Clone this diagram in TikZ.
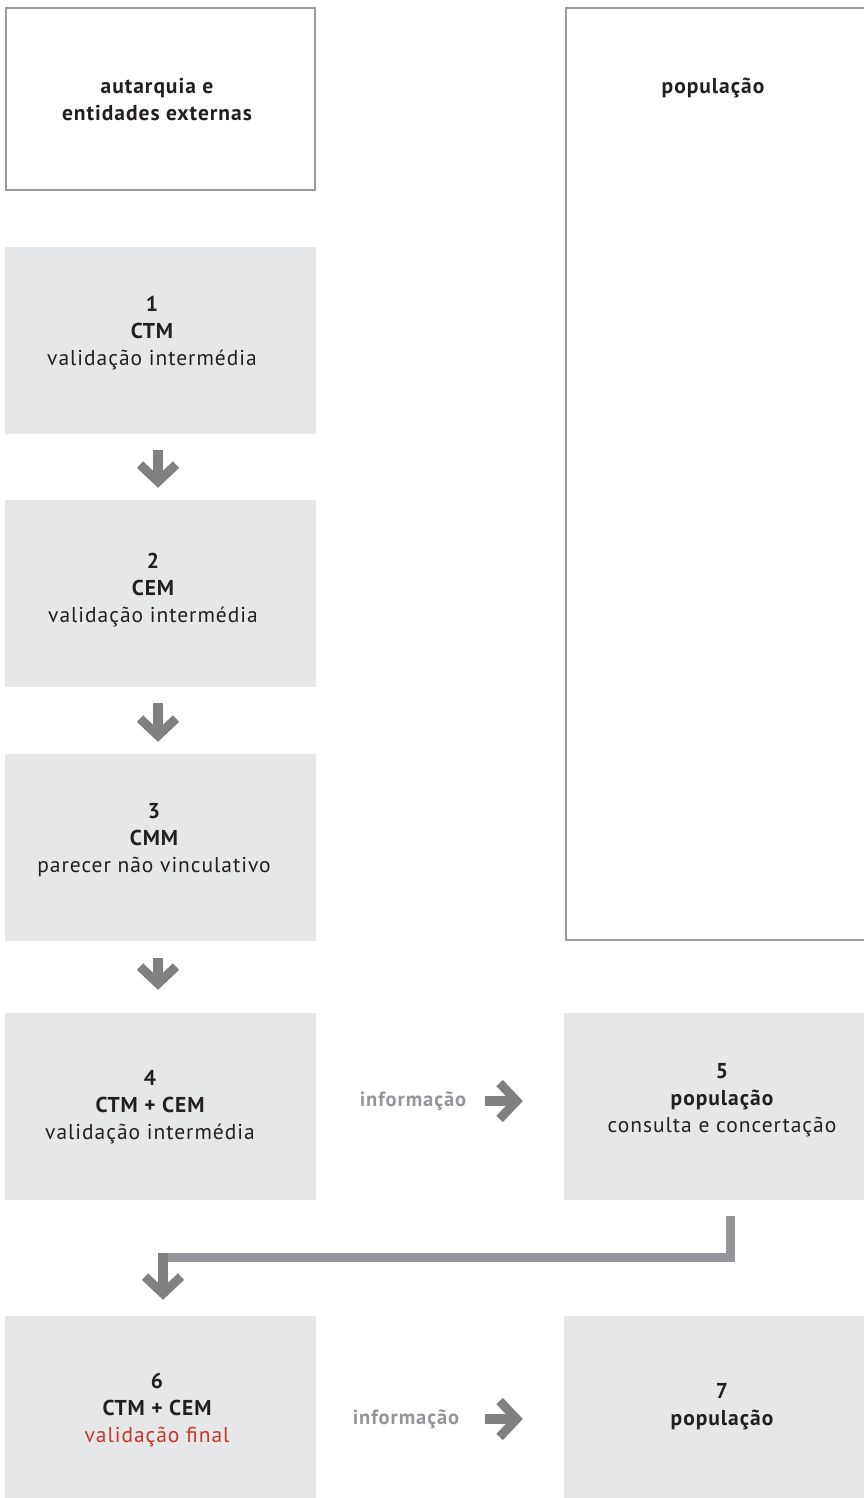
\documentclass[tikz,border=0pt]{standalone}
\usepackage{fontspec}
\setmainfont{PT Sans}[LetterSpace=4.5]
\usetikzlibrary{arrows.meta,calc}
\definecolor{boxgray}{HTML}{E6E7E9}
\definecolor{edgegray}{HTML}{9A9A9D}
\definecolor{arrgray}{HTML}{808080}
\definecolor{linegray}{HTML}{939598}
\definecolor{txt}{HTML}{231F20}
\definecolor{red}{HTML}{C4372A}
\definecolor{infogray}{HTML}{939598}
\tikzset{
  gbox/.style={fill=boxgray, draw=none, minimum width=311pt, inner sep=0pt},
  obox/.style={draw=edgegray, line width=2pt, fill=white, inner sep=0pt},
  lbl/.style={align=center, text=txt, font=\fontsize{21.5}{27}\selectfont, inner sep=0pt},
  info/.style={text=infogray, font=\fontsize{20.5}{24}\selectfont\bfseries, inner sep=0pt},
  downarr/.style={draw=arrgray, line width=9.5pt, -{Straight Barb[length=17pt,width=36pt,line width=9pt]}},
  conn/.style={draw=linegray, line width=9pt, line join=miter},
}
\begin{document}
\begin{tikzpicture}[x=1pt,y=-1pt]
\useasboundingbox (0,0) rectangle (864,1498);
% header boxes
\node[obox, minimum width=309pt, minimum height=182pt] (ha) at (160.5,99) {};
\draw[edgegray, line width=2pt] (870,8) -- (566,8) -- (566,940) -- (870,940);
\node[lbl] at (157,100) {\bfseries autarquia e\\\bfseries entidades externas};
\node[lbl] at (713,88) {\bfseries população};
% grey boxes
\node[gbox, minimum height=187pt] (b1) at (160.5,340.5) {};
\node[gbox, minimum height=187pt] (b2) at (160.5,593.5) {};
\node[gbox, minimum height=187pt] (b3) at (160.5,847.5) {};
\node[gbox, minimum height=187pt] (b4) at (160.5,1106.5) {};
\node[gbox, minimum width=300pt, minimum height=187pt] (b5) at (714,1106.5) {};
\node[gbox, minimum height=182pt] (b6) at (160.5,1407) {};
\node[gbox, minimum width=300pt, minimum height=182pt] (b7) at (714,1407) {};
% labels
\node[lbl] (t1) at (152,333) {\bfseries 1\\\bfseries CTM\\validação intermédia};
\node[lbl] (t2) at (153,590) {\bfseries 2\\\bfseries CEM\\validação intermédia};
\node[lbl] (t3) at (154,840) {\bfseries 3\\\bfseries CMM\\parecer não vinculativo};
\node[lbl] (t4) at (150,1107) {\bfseries 4\\\bfseries CTM + CEM\\validação intermédia};
\node[lbl] (t5) at (722,1100) {\bfseries 5\\\bfseries população\\consulta e concertação};
\node[lbl] (t6) at (157,1410) {\bfseries 6\\\bfseries CTM + CEM\\\textcolor{red}{validação final}};
\node[lbl] (t7) at (722,1407) {\bfseries 7\\\bfseries população};
% down arrows
\draw[downarr] ([xshift=-2.5pt,yshift=-16pt]b1.south) -- ([xshift=-2.5pt,yshift=12pt]b2.north);
\draw[downarr] ([xshift=-2.5pt,yshift=-16pt]b2.south) -- ([xshift=-2.5pt,yshift=12pt]b3.north);
\draw[downarr] ([xshift=-2.5pt,yshift=-17pt]b3.south) -- ([xshift=-2.5pt,yshift=23pt]b4.north);
% informacao arrows
\node[info] (i1) at (413,1101) {informação};
\node[info] (i2) at (406,1419) {informação};
\draw[downarr] ([xshift=-79pt,yshift=5.5pt]b5.west) -- ([xshift=-41pt,yshift=5.5pt]b5.west);
\draw[downarr] ([xshift=-79pt,yshift=-12pt]b7.west) -- ([xshift=-41pt,yshift=-12pt]b7.west);
% connector 5 -> 6
\draw[conn] ([xshift=16pt,yshift=-16pt]b5.south) |- ([xshift=2.5pt,yshift=58pt]b6.north);
\draw[downarr] ([xshift=2.5pt,yshift=62.5pt]b6.north) -- ([xshift=2.5pt,yshift=16pt]b6.north);
\end{tikzpicture}
\end{document}
